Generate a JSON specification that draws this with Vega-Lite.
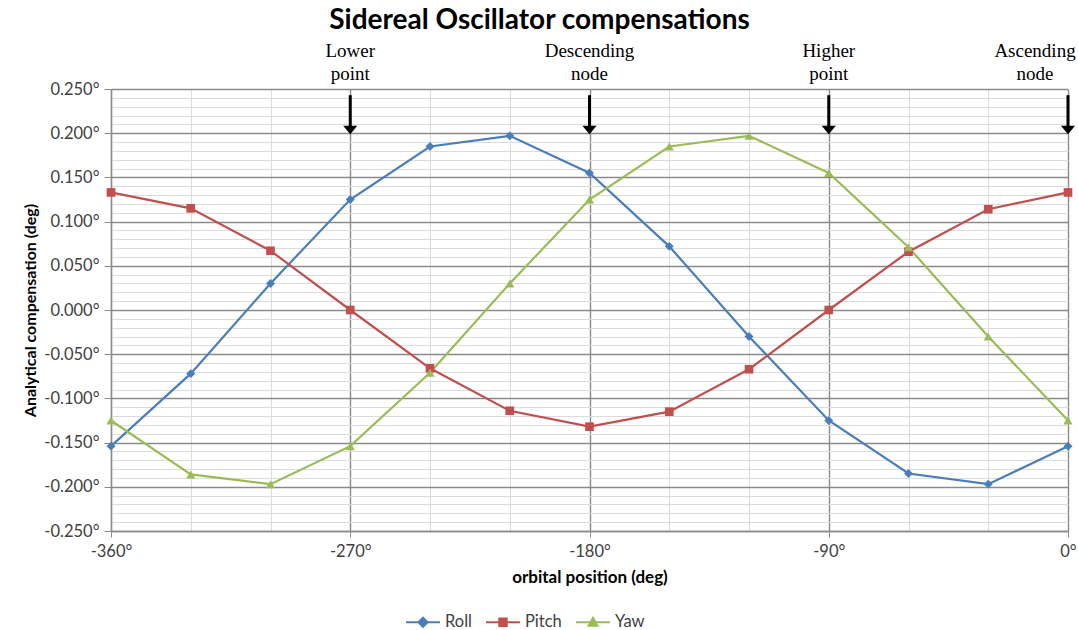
{
  "$schema": "https://vega.github.io/schema/vega-lite/v6.json",
  "width": 957,
  "height": 442,
  "autosize": {"type": "none"},
  "padding": {"left": 111, "top": 89, "right": 10, "bottom": 99},
  "background": "white",
  "title": {"text": "Sidereal Oscillator compensations", "font": "Lato", "fontSize": 28, "fontWeight": "bold", "color": "#000000", "anchor": "middle", "frame": "group", "offset": 10, "dx": -50, "dy": 25, "baseline": "alphabetic"},
  "datasets": {
    "series": [
      {"pos": -360, "series": "Roll", "value": -0.154},
      {"pos": -330, "series": "Roll", "value": -0.072},
      {"pos": -300, "series": "Roll", "value": 0.030},
      {"pos": -270, "series": "Roll", "value": 0.125},
      {"pos": -240, "series": "Roll", "value": 0.185},
      {"pos": -210, "series": "Roll", "value": 0.197},
      {"pos": -180, "series": "Roll", "value": 0.155},
      {"pos": -150, "series": "Roll", "value": 0.072},
      {"pos": -120, "series": "Roll", "value": -0.030},
      {"pos": -90, "series": "Roll", "value": -0.125},
      {"pos": -60, "series": "Roll", "value": -0.185},
      {"pos": -30, "series": "Roll", "value": -0.197},
      {"pos": 0, "series": "Roll", "value": -0.154},
      {"pos": -360, "series": "Pitch", "value": 0.133},
      {"pos": -330, "series": "Pitch", "value": 0.115},
      {"pos": -300, "series": "Pitch", "value": 0.067},
      {"pos": -270, "series": "Pitch", "value": 0.000},
      {"pos": -240, "series": "Pitch", "value": -0.066},
      {"pos": -210, "series": "Pitch", "value": -0.114},
      {"pos": -180, "series": "Pitch", "value": -0.132},
      {"pos": -150, "series": "Pitch", "value": -0.115},
      {"pos": -120, "series": "Pitch", "value": -0.067},
      {"pos": -90, "series": "Pitch", "value": 0.000},
      {"pos": -60, "series": "Pitch", "value": 0.066},
      {"pos": -30, "series": "Pitch", "value": 0.114},
      {"pos": 0, "series": "Pitch", "value": 0.133},
      {"pos": -360, "series": "Yaw", "value": -0.125},
      {"pos": -330, "series": "Yaw", "value": -0.186},
      {"pos": -300, "series": "Yaw", "value": -0.197},
      {"pos": -270, "series": "Yaw", "value": -0.154},
      {"pos": -240, "series": "Yaw", "value": -0.071},
      {"pos": -210, "series": "Yaw", "value": 0.030},
      {"pos": -180, "series": "Yaw", "value": 0.125},
      {"pos": -150, "series": "Yaw", "value": 0.185},
      {"pos": -120, "series": "Yaw", "value": 0.197},
      {"pos": -90, "series": "Yaw", "value": 0.155},
      {"pos": -60, "series": "Yaw", "value": 0.071},
      {"pos": -30, "series": "Yaw", "value": -0.030},
      {"pos": 0, "series": "Yaw", "value": -0.125}
    ],
    "notes": [
      {"pos": -270, "label": "Lower\npoint"},
      {"pos": -180, "label": "Descending\nnode"},
      {"pos": -90, "label": "Higher\npoint"},
      {"pos": 0, "label": "Ascending\nnode"}
    ]
  },
  "layer": [
    {
      "data": {"name": "series"},
      "mark": {"type": "line", "strokeWidth": 2.2},
      "encoding": {
        "x": {
          "field": "pos", "type": "quantitative",
          "scale": {"domain": [-360, 0], "nice": false, "zero": false},
          "axis": {
            "title": "orbital position (deg)",
            "titleFont": "Lato", "titleFontSize": 17, "titleFontWeight": "bold", "titleColor": "#000000", "titlePadding": 10,
            "values": [-360, -330, -300, -270, -240, -210, -180, -150, -120, -90, -60, -30, 0],
            "tickCount": 100,
            "labelFlush": false,
            "labelExpr": "datum.value % 90 === 0 ? datum.value + '°' : ''",
            "labelFont": "Lato", "labelFontSize": 16.5, "labelColor": "#404040", "labelPadding": 6,
            "grid": true,
            "gridColor": {"condition": {"test": "datum.value % 90 === 0", "value": "#8a8a8a"}, "value": "#dcdcdc"},
            "gridWidth": {"condition": {"test": "datum.value % 90 === 0", "value": 1.4}, "value": 1},
            "domainColor": "#8a8a8a", "domainWidth": 1.3,
            "tickColor": "#8a8a8a", "tickSize": 6,
            "tickOpacity": {"condition": {"test": "datum.value % 90 === 0", "value": 1}, "value": 0}
          }
        },
        "y": {
          "field": "value", "type": "quantitative",
          "scale": {"domain": [-0.25, 0.25], "nice": false},
          "axis": {
            "title": "Analytical compensation (deg)",
            "titleFont": "Lato", "titleFontSize": 16, "titleFontWeight": "bold", "titleColor": "#000000", "titlePadding": 5,
            "values": [-0.25, -0.24, -0.23, -0.22, -0.21, -0.2, -0.19, -0.18, -0.17, -0.16, -0.15, -0.14, -0.13, -0.12, -0.11, -0.1, -0.09, -0.08, -0.07, -0.06, -0.05, -0.04, -0.03, -0.02, -0.01, 0, 0.01, 0.02, 0.03, 0.04, 0.05, 0.06, 0.07, 0.08, 0.09, 0.1, 0.11, 0.12, 0.13, 0.14, 0.15, 0.16, 0.17, 0.18, 0.19, 0.2, 0.21, 0.22, 0.23, 0.24, 0.25],
            "tickCount": 100,
            "labelOverlap": false,
            "labelFlush": false,
            "labelExpr": "abs(round(datum.value * 100)) % 5 === 0 ? replace(format(datum.value, '.3f'), '−', '-') + '°' : ''",
            "labelFont": "Lato", "labelFontSize": 16.5, "labelColor": "#404040", "labelPadding": 5,
            "grid": true,
            "gridColor": {"condition": {"test": "abs(round(datum.value * 100)) % 5 === 0", "value": "#8a8a8a"}, "value": "#dcdcdc"},
            "gridWidth": {"condition": {"test": "abs(round(datum.value * 100)) % 5 === 0", "value": 1.4}, "value": 1},
            "domainColor": "#8a8a8a", "domainWidth": 1.3,
            "tickColor": "#8a8a8a", "tickSize": 7,
            "tickOpacity": {"condition": {"test": "abs(round(datum.value * 100)) % 5 === 0", "value": 1}, "value": 0}
          }
        },
        "color": {
          "field": "series", "type": "nominal",
          "scale": {"domain": ["Roll", "Pitch", "Yaw"], "range": ["#4a7ebb", "#c0504d", "#9bbb59"]},
          "legend": {
            "orient": "none", "legendX": 294, "legendY": 515, "direction": "horizontal", "title": null,
            "symbolSize": 1150, "symbolStrokeWidth": 2,
            "labelFont": "Lato", "labelFontSize": 16.5, "labelColor": "#404040", "labelOffset": 4, "columnPadding": 10,
            "encode": {
              "symbols": {
                "update": {
                  "shape": {"signal": "datum.value === 'Roll' ? 'M-1,0H1M0,-0.27L0.27,0L0,0.27L-0.27,0Z' : datum.value === 'Pitch' ? 'M-1,0H1M-0.22,-0.22H0.22V0.22H-0.22Z' : 'M-1,0H1M0,-0.26L0.26,0.2H-0.26Z'"},
                  "fill": {"signal": "scale('color', datum.value)"},
                  "stroke": {"signal": "scale('color', datum.value)"},
                  "strokeWidth": {"value": 2},
                  "opacity": {"value": 1},
                  "fillOpacity": {"value": 1}
                }
              }
            }
          }
        }
      }
    },
    {
      "data": {"name": "series"},
      "transform": [{"filter": "datum.series === 'Roll'"}],
      "mark": {"type": "point", "filled": true, "size": 80, "opacity": 1, "shape": "diamond"},
      "encoding": {
        "x": {"field": "pos", "type": "quantitative"},
        "y": {"field": "value", "type": "quantitative"},
        "color": {"field": "series", "type": "nominal", "legend": null}
      }
    },
    {
      "data": {"name": "series"},
      "transform": [{"filter": "datum.series === 'Pitch'"}],
      "mark": {"type": "point", "filled": true, "size": 75, "opacity": 1, "shape": "square"},
      "encoding": {
        "x": {"field": "pos", "type": "quantitative"},
        "y": {"field": "value", "type": "quantitative"},
        "color": {"field": "series", "type": "nominal", "legend": null}
      }
    },
    {
      "data": {"name": "series"},
      "transform": [{"filter": "datum.series === 'Yaw'"}],
      "mark": {"type": "point", "filled": true, "size": 85, "opacity": 1, "shape": "triangle-up"},
      "encoding": {
        "x": {"field": "pos", "type": "quantitative"},
        "y": {"field": "value", "type": "quantitative"},
        "color": {"field": "series", "type": "nominal", "legend": null}
      }
    },
    {
      "data": {"name": "notes"},
      "mark": {"type": "rule", "color": "#000000", "strokeWidth": 3},
      "encoding": {
        "x": {"field": "pos", "type": "quantitative"},
        "y": {"datum": 0.243},
        "y2": {"datum": 0.206}
      }
    },
    {
      "data": {"name": "notes"},
      "mark": {"type": "point", "shape": "M-1,-0.6L1,-0.6L0,0.6Z", "filled": true, "color": "#000000", "size": 200, "opacity": 1},
      "encoding": {
        "x": {"field": "pos", "type": "quantitative"},
        "y": {"datum": 0.2035}
      }
    },
    {
      "data": {"name": "notes"},
      "transform": [{"filter": "datum.pos < 0"}],
      "mark": {"type": "text", "font": "Liberation Serif", "fontSize": 19, "lineBreak": "\n", "lineHeight": 23, "baseline": "alphabetic", "align": "center", "dy": -32, "color": "#000000"},
      "encoding": {
        "x": {"field": "pos", "type": "quantitative"},
        "y": {"datum": 0.25},
        "text": {"field": "label"}
      }
    },
    {
      "data": {"name": "notes"},
      "transform": [{"filter": "datum.pos === 0"}],
      "mark": {"type": "text", "font": "Liberation Serif", "fontSize": 19, "lineBreak": "\n", "lineHeight": 23, "baseline": "alphabetic", "align": "center", "dy": -32, "dx": -33, "color": "#000000"},
      "encoding": {
        "x": {"field": "pos", "type": "quantitative"},
        "y": {"datum": 0.25},
        "text": {"field": "label"}
      }
    }
  ],
  "config": {"view": {"stroke": null}}
}
